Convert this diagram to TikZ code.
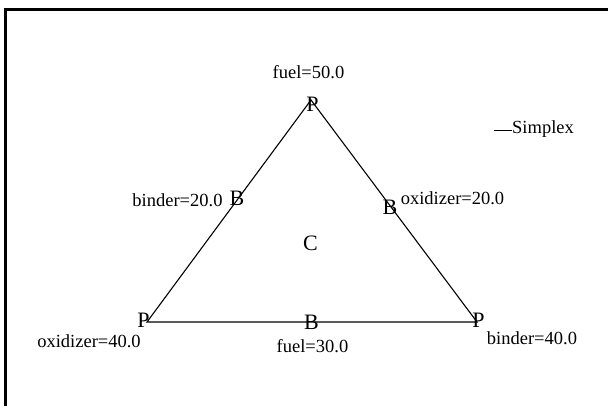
\documentclass[tikz,border=0pt]{standalone}
\usepackage{fontspec}
\setmainfont{Liberation Serif}
\begin{document}
\begin{tikzpicture}[x=1pt,y=-1pt,
  vlabel/.style={inner sep=0pt,font=\fontsize{22}{24}\selectfont},
  txt/.style={inner sep=0pt,font=\fontsize{18.5}{20}\selectfont},
  edge/.style={line width=1.1pt}]
\useasboundingbox (0,0) rectangle (608,406);
\draw[line width=3.3pt,line cap=rect] (5.7,406) -- (5.7,9.3) -- (608,9.3);
% vertices
\coordinate (vt) at (311,100);
\coordinate (vl) at (147,322);
\coordinate (vr) at (477,322);
\draw[edge] (vt) -- (vl) -- (vr) -- cycle;
\node[vlabel] (pt) at (312.5,104.5) {P};
\node[vlabel] (pl) at (143.5,320.5) {P};
\node[vlabel] (pr) at (478.5,320.5) {P};
\node[vlabel] (bl) at (237,198.5) {B};
\node[vlabel] (br) at (390,207) {B};
\node[vlabel] (bb) at (311.5,322.5) {B};
\node[vlabel] (c) at (310.5,243) {C};
% labels
\node[txt] (l1) at (308.5,72) {fuel=50.0};
\node[txt] (l2) at (177.5,200) {binder=20.0};
\node[txt] (l3) at (452.5,198.5) {oxidizer=20.0};
\node[txt] (l4) at (89,341.5) {oxidizer=40.0};
\node[txt] (l5) at (312.5,346.5) {fuel=30.0};
\node[txt] (l6) at (532,338.5) {binder=40.0};
% legend
\node[txt,anchor=west] (leg) at (512,129) {Simplex};
\coordinate (legs) at (494,130.5);
\draw[edge] (legs) -- (leg.west |- legs);
\end{tikzpicture}
\end{document}
